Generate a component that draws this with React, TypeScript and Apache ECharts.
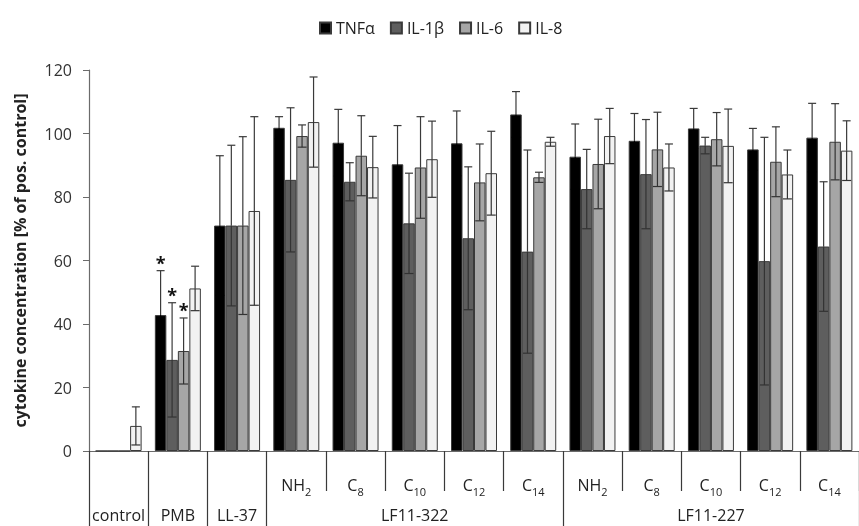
import React, { useEffect, useRef } from "react";
import * as echarts from "echarts";

// ---- data ----
const categories = ["control", "PMB", "LL-37", "322-NH2", "322-C8", "322-C10", "322-C12", "322-C14", "227-NH2", "227-C8", "227-C10", "227-C12", "227-C14"];
const subLabels = ["", "", "", "NH_2", "C_8", "C_10", "C_12", "C_14", "NH_2", "C_8", "C_10", "C_12", "C_14"];
const groupLabels = ["control", "PMB", "LL-37", "", "", "LF11-322", "", "", "", "", "LF11-227", "", ""];
const subTickIdx = [4, 5, 6, 7, 9, 10, 11, 12];
const majorTickIdx = [0, 1, 2, 3, 8];

const seriesNames = ["TNFα", "IL-1β", "IL-6", "IL-8"];
const seriesColors = ["#000000", "#5e5e5e", "#a6a6a6", "#f2f2f2"];

const tnf = [0, 42.8, 71.0, 101.8, 97.1, 90.3, 96.9, 106.0, 92.7, 97.7, 101.6, 95.0, 98.7];
const tnfSd = [0, 14, 22, 3.5, 10.5, 12.2, 10.2, 7.2, 10.3, 8.6, 6.3, 6.6, 10.8];
const il1b = [0, 28.7, 71.0, 85.4, 84.8, 71.7, 67.0, 62.8, 82.5, 87.2, 96.2, 59.8, 64.4];
const il1bSd = [0, 18, 25.3, 22.7, 6, 15.8, 22.5, 32, 12.5, 17.2, 2.6, 39, 20.4];
const il6 = [0, 31.5, 71.0, 99.2, 93.0, 89.3, 84.6, 86.2, 90.4, 95.0, 98.2, 91.1, 97.4];
const il6Sd = [0, 10.4, 28, 3.5, 12.6, 16, 12.1, 1.6, 14.1, 11.7, 8.4, 11, 12];
const il8 = [7.9, 51.2, 75.6, 103.6, 89.4, 91.9, 87.5, 97.4, 99.2, 89.3, 96.1, 87.1, 94.6];
const il8Sd = [6, 7, 29.7, 14.2, 9.7, 12, 13.2, 1.4, 8.7, 7.4, 11.6, 7.7, 9.4];

// significance stars: [category index, series index]
const stars = [[1, 0], [1, 1], [1, 2]];

const means = [tnf, il1b, il6, il8];
const sds = [tnfSd, il1bSd, il6Sd, il8Sd];

const FONT = "'Open Sans', 'Noto Sans', sans-serif";
const BAR_W = 11.5;

export default function App() {
  const ref = useRef<HTMLDivElement>(null);
  useEffect(() => {
    if (!ref.current) return;
    const chart = echarts.init(ref.current, null, { renderer: "svg" });

    const barSeries = seriesNames.map((name, k) => ({
      type: "bar",
      name,
      data: means[k],
      barWidth: BAR_W,
      barGap: "0%",
      itemStyle: { color: seriesColors[k], borderColor: "#3a3a3a", borderWidth: 1 },
      z: 2,
    }));

    const errSeries = seriesNames.map((name, k) => ({
      type: "custom",
      name: name + " SD",
      xAxisIndex: 0,
      yAxisIndex: 0,
      z: 5,
      clip: false,
      data: means[k].map((v, i) => [i, v, sds[k][i], stars.some((s) => s[0] === i && s[1] === k) ? 1 : 0]),
      renderItem: (params: any, api: any) => {
        const i = api.value(0);
        const m = api.value(1);
        const sd = api.value(2);
        const star = api.value(3);
        if (!sd) return { type: "group", children: [] };
        const off = (k - 1.5) * BAR_W;
        const x = api.coord([i, 0])[0] + off;
        const yT = api.coord([i, m + sd])[1];
        const yM = api.coord([i, m])[1];
        const yB = api.coord([i, Math.max(m - sd, 0)])[1];
        const ls = { stroke: "#3a3a3a", lineWidth: 1.2 };
        const lsIn = { stroke: k === 0 ? "#000" : "#333", lineWidth: 1.2 };
        const children: any[] = [
          { type: "line", shape: { x1: x, y1: yT, x2: x, y2: yM }, style: ls },
          { type: "line", shape: { x1: x - 4, y1: yT, x2: x + 4, y2: yT }, style: ls },
          { type: "line", shape: { x1: x, y1: yM, x2: x, y2: yB }, style: lsIn },
          { type: "line", shape: { x1: x - 4.5, y1: yB, x2: x + 4.5, y2: yB }, style: lsIn },
        ];
        if (star) {
          children.push({
            type: "text",
            style: {
              text: "*",
              x: x,
              y: yT - 8,
              align: "center",
              verticalAlign: "middle",
              font: "bold 18px " + FONT,
              fill: "#111",
            },
          });
        }
        return { type: "group", children };
      },
    }));

    const labelFormatter = (_v: string, idx: number) => {
      const v = subLabels[idx];
      if (!v) return "";
      const p = v.split("_");
      return p.length > 1 ? "{m|" + p[0] + "}{s|" + p[1] + "}" : "{m|" + v + "}";
    };

    chart.setOption({
      animation: false,
      legend: {
        data: seriesNames,
        top: 15,
        left: 314,
        icon: "rect",
        itemWidth: 11,
        itemHeight: 11,
        itemGap: 15,
        textStyle: { fontFamily: FONT, fontSize: 16, color: "#222" },
      },
      grid: { left: 89, right: -11, top: 70, bottom: 75, containLabel: false },
      xAxis: [
        {
          type: "category",
          data: categories,
          position: "bottom",
          axisLine: { show: true, lineStyle: { color: "#6b6b6b", width: 1.2 } },
          axisTick: { show: true, length: 40, interval: (i: number) => subTickIdx.includes(i), lineStyle: { color: "#3a3a3a", width: 1.2 } },
          axisLabel: {
            interval: 0,
            margin: 22,
            formatter: labelFormatter,
            rich: {
              m: { fontFamily: FONT, fontSize: 16, color: "#222", lineHeight: 24, verticalAlign: "middle" },
              s: { fontFamily: FONT, fontSize: 11, color: "#222", lineHeight: 24, verticalAlign: "bottom", padding: [11, 0, 0, 0] },
            },
          },
        },
        {
          type: "category",
          data: groupLabels,
          position: "bottom",
          offset: 0,
          axisLine: { show: false },
          axisTick: { show: true, length: 75, interval: (i: number) => majorTickIdx.includes(i), lineStyle: { color: "#3a3a3a", width: 1.2 } },
          axisLabel: { interval: 0, margin: 56, fontFamily: FONT, fontSize: 16, color: "#222" },
        },
      ],
      yAxis: {
        type: "value",
        min: 0,
        max: 120,
        interval: 20,
        name: "cytokine concentration [% of pos. control]",
        nameLocation: "middle",
        nameGap: 61,
        nameTextStyle: { fontFamily: FONT, fontSize: 16, fontWeight: "bold", color: "#222" },
        axisLine: { show: true, lineStyle: { color: "#6b6b6b", width: 1.2 } },
        axisTick: { show: true, length: 6, lineStyle: { color: "#6b6b6b" } },
        splitLine: { show: false },
        axisLabel: { fontFamily: FONT, fontSize: 16, color: "#333", margin: 17 },
      },
      series: [...barSeries, ...errSeries],
    });
    return () => chart.dispose();
  }, []);
  return <div ref={ref} style={{ position: "fixed", left: 0, top: 0, width: 859, height: 526 }} />;
}
